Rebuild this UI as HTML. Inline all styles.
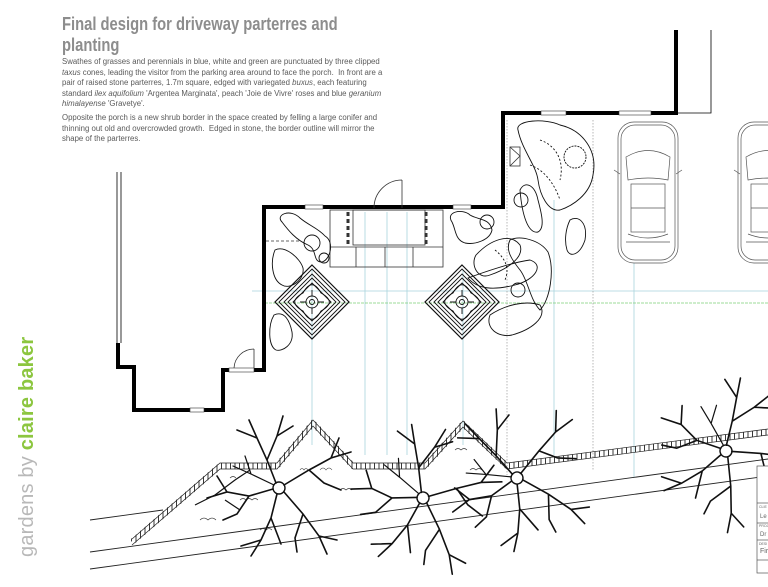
<!DOCTYPE html>
<html><head><meta charset="utf-8"><style>
html,body{margin:0;padding:0;background:#fff;}
body{width:768px;height:587px;overflow:hidden;position:relative;font-family:"Liberation Sans",sans-serif;}
.t{position:absolute;left:62px;top:14px;font-size:18px;font-weight:bold;color:#8d8d8d;line-height:21px;white-space:nowrap;transform-origin:0 0;transform:scaleX(0.82);}
.p{position:absolute;left:62px;font-size:7.8px;line-height:10.6px;color:#5a5a5a;white-space:nowrap;}
.v{position:absolute;left:16px;top:557px;transform-origin:0 0;transform:rotate(-90deg);font-size:20px;white-space:nowrap;color:#b8b8b8;letter-spacing:0.2px;}
.v b{color:#8cc63f;font-weight:bold;}
svg{position:absolute;left:0;top:0;}
</style></head><body>
<svg width="768" height="587" viewBox="0 0 768 587">
<defs>
<g id="tree" fill="none" stroke="#111" stroke-width="1.6" stroke-linecap="round">
<circle r="6" stroke-width="1.4"/>
<path d="M-3,-5 L-12,-28 L-22,-50 L-30,-68 M-22,-50 L-42,-58 M-12,-28 L-2,-52 L4,-72 M-2,-52 L14,-62"/>
<path d="M5,-3 L30,-18 L52,-30 L72,-36 M52,-30 L60,-50 M30,-18 L45,-5 L62,2"/>
<path d="M5,4 L24,26 L40,48 L48,66 M40,48 L58,52 M24,26 L16,50 L18,64"/>
<path d="M-2,6 L-8,30 L-18,52 L-28,68 M-18,52 L-38,58 M-8,30 L2,56"/>
<path d="M-6,1 L-30,8 L-52,4 L-72,10 M-52,4 L-62,-12 M-30,8 L-42,26 L-56,32"/>
<path d="M-5,-3 L-28,-14 L-46,-22 M-28,-14 L-34,-32" stroke-width="1.2"/>
</g>
<g id="parterre" fill="none" stroke="#111" stroke-width="0.9">
<path d="M0,-37 L37,0 L0,37 L-37,0Z" stroke-width="1.2"/>
<path d="M0,-33 L33,0 L0,33 L-33,0Z"/>
<path d="M0,-28 L28,0 L0,28 L-28,0Z"/>
<path d="M0,-24 L24,0 L0,24 L-24,0Z"/>
<path d="M0,-19 L19,0 L0,19 L-19,0Z"/>
<path d="M-9,-9 C-3,-20 3,-20 9,-9 C20,-3 20,3 9,9 C3,20 -3,20 -9,9 C-20,3 -20,-3 -9,-9Z"/>
<circle r="6"/><circle r="2.5"/>
<path d="M0,-6 L0,-12 M6,0 L12,0 M0,6 L0,12 M-6,0 L-12,0"/>
</g>
<g id="car" fill="none" stroke="#555" stroke-width="0.7">
<rect x="0" y="0" width="60" height="141" rx="16"/>
<rect x="3" y="3" width="54" height="135" rx="14"/>
<path d="M8,35 Q30,22 52,35 L50,58 Q30,54 10,58Z"/>
<rect x="13" y="62" width="34" height="48"/>
<path d="M13,86 L47,86 M10,112 Q30,120 50,112 M8,120 L52,120"/>
<path d="M-4,48 L2,52 M64,48 L58,52"/>
</g>
<pattern id="hatch" width="4.5" height="10" patternUnits="userSpaceOnUse"><line x1="1" y1="0" x2="1" y2="10" stroke="#222" stroke-width="0.9"/></pattern>
</defs>

<g stroke="#a9d3dc" stroke-width="0.8">
<line x1="252" y1="291" x2="768" y2="291"/>
<line x1="312" y1="270" x2="312" y2="445"/>
<line x1="365" y1="212" x2="365" y2="455"/>
<line x1="387" y1="212" x2="387" y2="455"/>
<line x1="407" y1="212" x2="407" y2="455"/>
<line x1="463" y1="270" x2="463" y2="445"/>
<line x1="554" y1="200" x2="554" y2="455"/>
<line x1="634" y1="263" x2="634" y2="478"/>
</g>
<line x1="265" y1="303" x2="768" y2="303" stroke="#7fd07a" stroke-width="0.8" stroke-dasharray="3 1"/>
<g stroke="#999" stroke-width="0.7" stroke-dasharray="1.5 1.5">
<line x1="507" y1="120" x2="507" y2="475"/>
<line x1="593" y1="120" x2="593" y2="470"/>
</g>

<g fill="none" stroke="#000" stroke-width="4" stroke-linejoin="miter">
<path d="M676,30 L676,113 L503,113 L503,207 L264,207 L264,370 L223,370 L223,410 L134,410 L134,367 L118,367 L118,343"/>
</g>
<g stroke="#000" stroke-width="0.8" fill="none">
<path d="M117,343 L117,172 M121,343 L121,172"/>
<path d="M676,113 L711,113 L711,30"/>
</g>
<g fill="#fff" stroke="#333" stroke-width="0.6">
<rect x="305" y="205" width="18" height="4"/><rect x="453" y="205" width="18" height="4"/>
<rect x="541" y="111" width="25" height="4"/><rect x="619" y="111" width="32" height="4"/>
<rect x="190" y="408" width="14" height="4"/><rect x="229" y="368" width="25" height="4"/>
</g>
<g fill="none" stroke="#333" stroke-width="0.8">
<path d="M402,180 L402,208 M402,180 A28,28 0 0 0 374,208"/>
<path d="M254,349 L254,368 M254,349 A20,20 0 0 0 234,368"/>
<rect x="330" y="210" width="113" height="57"/>
<rect x="353" y="210" width="72" height="35"/>
<path d="M330,247 L443,247 M356,247 L356,267 M385,247 L385,267 M413,247 L413,267"/>
<path d="M348,212 L348,245 M426,212 L426,245" stroke-width="3" stroke-dasharray="4 3"/>
<rect x="510" y="147" width="10" height="19"/>
<path d="M510,147 L520,156 L510,166"/>
<line x1="266" y1="241" x2="300" y2="241" stroke-dasharray="3 2"/>
</g>

<use href="#parterre" x="312" y="302"/>
<use href="#parterre" x="462" y="302"/>

<g fill="none" stroke="#111" stroke-width="0.9">
<path d="M282,222 C275,215 290,208 300,218 C308,225 318,228 325,236 C335,242 330,260 322,262 C312,262 318,250 308,245 C296,240 288,230 282,222Z"/>
<circle cx="312" cy="243" r="8"/><circle cx="324" cy="258" r="5"/>
<path d="M275,250 C285,245 300,258 303,268 C305,280 290,290 282,285 C272,280 270,262 275,250Z"/>
<path d="M274,315 C285,310 290,322 292,332 C294,345 282,352 276,350 C268,346 268,325 274,315Z"/>
<path d="M452,222 C445,212 462,208 470,215 C478,220 490,218 492,230 C490,240 475,245 465,243 C455,240 456,230 452,222Z"/>
<circle cx="487" cy="222" r="7"/>
<path d="M476,255 C490,240 510,232 520,245 C525,258 505,270 490,275 C478,280 470,265 476,255Z"/>
<path d="M468,278 C490,270 515,262 530,260 C545,265 535,280 515,285 C495,290 478,290 468,278Z"/>
<path d="M490,315 C505,305 525,300 540,305 C548,318 530,330 512,335 C498,338 485,328 490,315Z"/>
<path d="M518,130 C515,120 545,118 560,125 C582,130 598,150 593,175 C590,195 572,206 560,210 C548,212 540,195 538,180 C536,165 522,150 518,130Z"/>
<path d="M520,190 C525,180 535,185 538,200 C542,215 545,228 538,232 C528,234 522,215 520,190Z"/>
<path d="M570,220 C578,215 588,222 585,240 C580,255 570,258 567,250 C564,240 566,228 570,220Z"/>
<path d="M510,240 C520,235 540,240 548,252 C555,270 550,300 540,310 C530,300 528,280 520,270 C512,260 505,250 510,240Z"/>
<circle cx="575" cy="157" r="11" stroke-dasharray="2 1"/>
<circle cx="521" cy="200" r="7"/><circle cx="518" cy="290" r="7"/>
<path d="M540,140 C555,145 565,160 560,180 M530,165 C545,170 555,185 560,200 M495,250 C505,258 510,268 505,280" stroke-dasharray="2 2"/>
</g>

<use href="#car" x="618" y="122"/>
<use href="#car" x="738" y="122"/>

<g stroke="#222" stroke-width="0.9" fill="none">
<line x1="90" y1="552" x2="768" y2="459"/>
<line x1="90" y1="569" x2="768" y2="476"/>
<line x1="90" y1="520" x2="163" y2="510"/>
</g>
<g fill="none">
<path d="M132,542 L220,466 L277,466 L313,423 L353,466 L425,466 L463,424 L507,466 L768,432" stroke="url(#hatch)" stroke-width="6"/>
<path d="M132,542 L220,466 L277,466 L313,423 L353,466 L425,466 L463,424 L507,466 L768,432" stroke="#222" stroke-width="0.7" transform="translate(0,-3)"/>
<path d="M132,542 L220,466 L277,466 L313,423 L353,466 L425,466 L463,424 L507,466 L768,432" stroke="#222" stroke-width="0.7" transform="translate(0,3)"/>
</g>
<g fill="none" stroke="#333" stroke-width="0.6">
<path d="M200,520 q4,-4 8,0 q4,-4 8,0 M240,500 q3,-3 6,0 q3,-3 6,0 q3,-3 6,0 M320,470 q3,-4 6,0 q3,-4 6,0 M340,490 q3,-3 6,0 q3,-3 6,0 M300,470 q2,-3 4,0 q2,-3 4,0 M455,450 q3,-3 6,0 q3,-3 6,0 M470,470 q3,-3 6,0 q3,-3 6,0 M230,478 q3,-3 6,0 M260,530 q3,-3 6,0 q3,-3 6,0"/>
<path d="M215,495 L235,480 L250,470 M225,500 L240,510 M195,505 L215,495" stroke="#111" stroke-width="1.2"/>
</g>
<use href="#tree" x="279" y="488"/>
<use href="#tree" x="423" y="498" transform="rotate(15 423 498)"/>
<use href="#tree" x="517" y="478" transform="rotate(-20 517 478)"/>
<use href="#tree" x="726" y="451" transform="rotate(35 726 451)"/>

<g fill="#fff" stroke="#555" stroke-width="0.7">
<rect x="757" y="466" width="20" height="107"/>
<line x1="757" y1="503" x2="768" y2="503"/>
<line x1="757" y1="523" x2="768" y2="523"/>
<line x1="757" y1="540" x2="768" y2="540"/>
<line x1="757" y1="560" x2="768" y2="560"/>
</g>
<g font-family="Liberation Sans,sans-serif" fill="#666">
<text x="759" y="508" font-size="3.5">CLIE</text><text x="760" y="518" font-size="6">Le</text>
<text x="759" y="527" font-size="3.5">PROJ</text><text x="760" y="536" font-size="6">Dr</text>
<text x="759" y="545" font-size="3.5">DESI</text><text x="760" y="553" font-size="7">Fir</text>
</g>
</svg>

<div class="t">Final design for driveway parterres and<br>planting</div>
<div class="p" style="top:57px">Swathes of grasses and perennials in blue, white and green are punctuated by three clipped<br><i>taxus</i> cones, leading the visitor from the parking area around to face the porch.&nbsp; In front are a<br>pair of raised stone parterres, 1.7m square, edged with variegated <i>buxus</i>, each featuring<br>standard <i>ilex aquifolium</i> 'Argentea Marginata', peach 'Joie de Vivre' roses and blue <i>geranium</i><br><i>himalayense</i> 'Gravetye'.</div>
<div class="p" style="top:113px">Opposite the porch is a new shrub border in the space created by felling a large conifer and<br>thinning out old and overcrowded growth.&nbsp; Edged in stone, the border outline will mirror the<br>shape of the parterres.</div>
<div class="v">gardens by <b>claire baker</b></div>
</body></html>
